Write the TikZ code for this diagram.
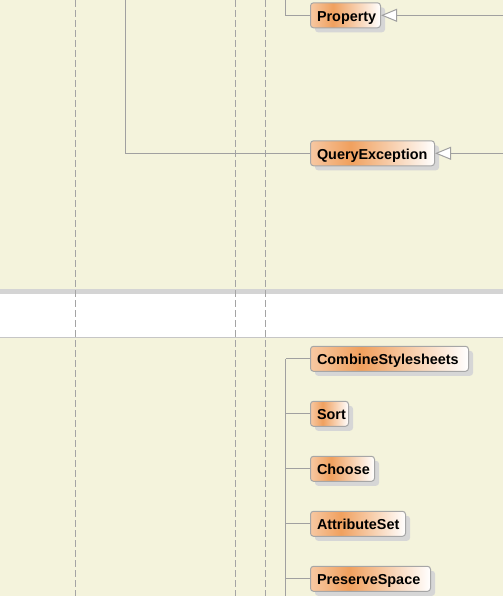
\documentclass[tikz,border=0pt]{standalone}
\usepackage{fontspec}
\newfontfamily\classfont{Liberation Sans}
\usetikzlibrary{arrows.meta,shadows}

\definecolor{paper}{HTML}{F4F3DC}
\definecolor{bandgray}{HTML}{D4D4D4}
\definecolor{bandedge}{HTML}{C6C6C6}
\definecolor{guide}{HTML}{A4A4A4}
\definecolor{linkgray}{HTML}{A0A0A0}
\definecolor{boxedge}{HTML}{A6A6A6}
\definecolor{shadowgray}{HTML}{D6D6D6}
\definecolor{shadeleft}{HTML}{F7C8A2}
\definecolor{shadepeak}{HTML}{F0A05E}

% class box fill: light orange at the left, deepest a third of the way in, white at the right
\pgfdeclarehorizontalshading{classshade}{100bp}{%
  color(0bp)=(shadeleft); color(25bp)=(shadeleft); color(41bp)=(shadepeak);
  color(75bp)=(white); color(100bp)=(white)}

\tikzset{
  classbox/.style={draw=boxedge, line width=1pt, rounded corners=3pt,
    shade, shading=classshade, anchor=west, minimum height=25pt,
    inner xsep=6.5pt, inner ysep=0pt, align=left,
    text height=12pt, text depth=0pt,
    font=\classfont\bfseries\fontsize{14.4}{16}\selectfont,
    general shadow={fill=shadowgray, draw=none, shadow xshift=4.5pt, shadow yshift=-4.5pt}},
  link/.style={draw=linkgray, line width=1pt},
  inherit/.style={link, -{Triangle[length=16pt, width=13pt, fill=white, line width=1pt]}},
  lifeline/.style={draw=guide, line width=1pt, dash pattern=on 7pt off 3pt}
}

\begin{document}
\begin{tikzpicture}[x=1pt, y=-1pt]
  \useasboundingbox (0,0) rectangle (503,596);

  % canvas and separating band
  \fill[paper] (0,0) rectangle (503,596);
  \fill[bandgray] (0,289) rectangle (503,294);
  \fill[white] (0,294) rectangle (503,337);
  \draw[bandedge, line width=1pt] (0,337.5) -- (503,337.5);

  % dashed vertical guides
  \coordinate (g1top) at (75.5,0);   \coordinate (g1bot) at (75.5,596);
  \coordinate (g2top) at (235.5,0);  \coordinate (g2bot) at (235.5,596);
  \coordinate (g3top) at (265.5,0);  \coordinate (g3bot) at (265.5,596);
  \draw[lifeline] (g1top) -- (g1bot);
  \draw[lifeline] (g2top) -- (g2bot);
  \draw[lifeline] (g3top) -- (g3bot);

  % upper classes
  \node[classbox, text width=57pt] (property) at (310,15.3) {Property};
  \node[classbox, text width=111pt] (queryexc) at (310,153.3) {QueryException};

  \coordinate (propsrc) at (285.5,0);
  \coordinate (propsuper) at (503,15.3);
  \coordinate (querysrc) at (125.5,0);
  \coordinate (querysuper) at (503,153.3);
  \draw[link] (propsrc) |- (property.west);
  \draw[inherit] (propsuper) -- (property.east);
  \draw[link] (querysrc) |- (queryexc.west);
  \draw[inherit] (querysuper) -- (queryexc.east);

  % lower classes
  \coordinate (trunkbot) at (285.5,596);
  \draw[link] (285.5,358.8) -- (trunkbot);

  \node[classbox, text width=145pt] (combine) at (310,358.8) {CombineStylesheets};
  \node[classbox, text width=25pt] (sort) at (310,413.8) {Sort};
  \node[classbox, text width=51pt] (choose) at (310,468.8) {Choose};
  \node[classbox, text width=82pt] (attrset) at (310,523.8) {AttributeSet};
  \node[classbox, text width=107pt] (preserve) at (310,578.8) {PreserveSpace};

  \draw[link] (combine.west) -- (combine.west -| trunkbot);
  \draw[link] (sort.west) -- (sort.west -| trunkbot);
  \draw[link] (choose.west) -- (choose.west -| trunkbot);
  \draw[link] (attrset.west) -- (attrset.west -| trunkbot);
  \draw[link] (preserve.west) -- (preserve.west -| trunkbot);
\end{tikzpicture}
\end{document}
